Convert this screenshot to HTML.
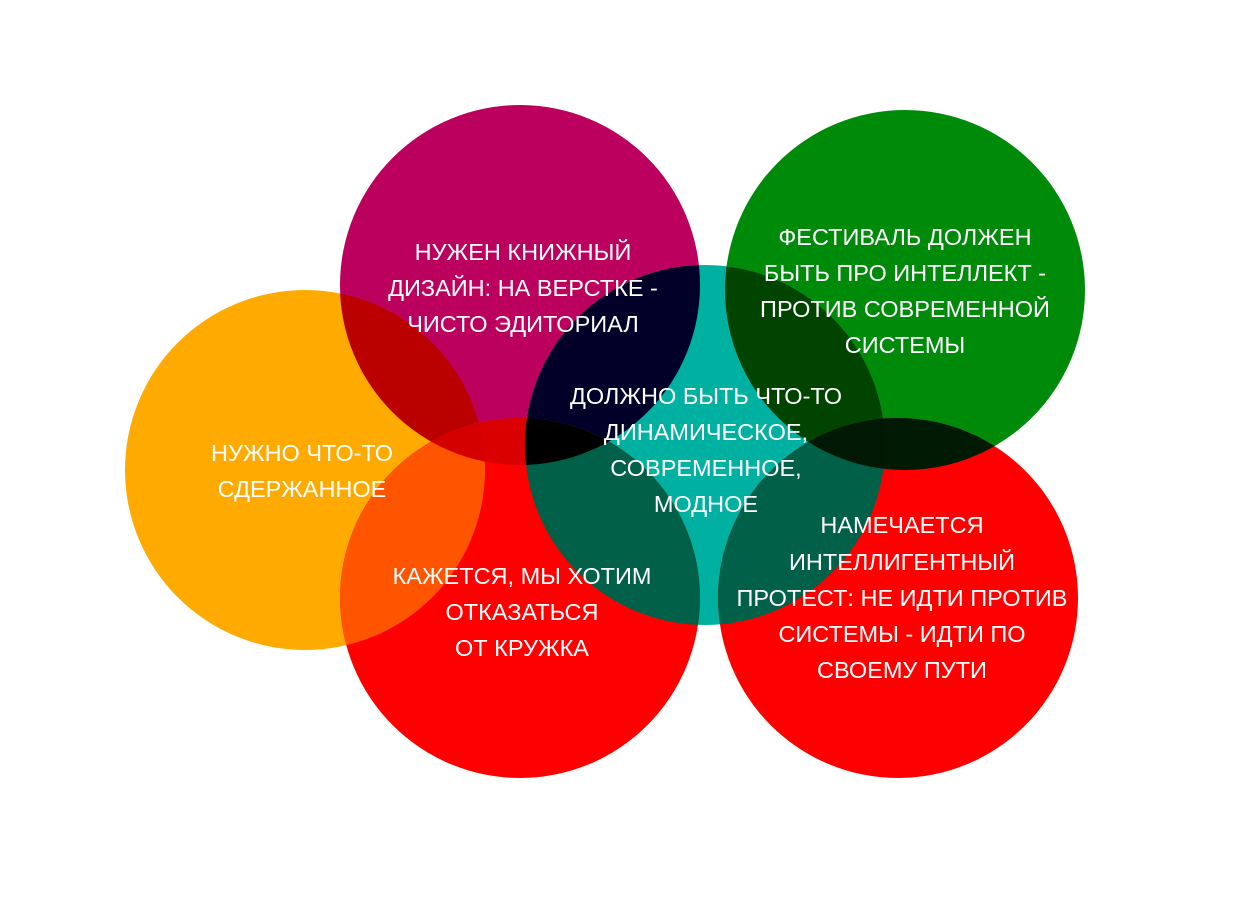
<!DOCTYPE html>
<html><head><meta charset="utf-8"><style>
html,body{margin:0;padding:0;background:#fff;}
svg{display:block}
text{font-family:"Liberation Sans","DejaVu Sans",sans-serif;font-size:23.5px;fill:#fff;text-anchor:middle;dominant-baseline:central;letter-spacing:0px}
</style></head><body>
<svg width="1240" height="900" viewBox="0 0 1240 900" xmlns="http://www.w3.org/2000/svg">
<defs>
<clipPath id="cO"><circle cx="305" cy="470" r="180"/></clipPath>
<clipPath id="cM"><circle cx="520" cy="285" r="180"/></clipPath>
<clipPath id="cG"><circle cx="905" cy="290" r="180"/></clipPath>
<clipPath id="cT"><circle cx="705" cy="445" r="180"/></clipPath>
<clipPath id="cR1"><circle cx="520" cy="598" r="180"/></clipPath>
<clipPath id="cR2"><circle cx="898" cy="598" r="180"/></clipPath>
</defs>
<rect width="1240" height="900" fill="#fff"/>
<circle cx="305" cy="470" r="180" fill="#FFAA00"/>
<circle cx="520" cy="285" r="180" fill="#BC005E"/>
<circle cx="905" cy="290" r="180" fill="#008A0A"/>
<circle cx="705" cy="445" r="180" fill="#00B0A0"/>
<circle cx="520" cy="598" r="180" fill="#FF0000"/>
<circle cx="898" cy="598" r="180" fill="#FF0000"/>
<g clip-path="url(#cO)"><circle cx="520" cy="285" r="180" fill="#BB0000"/></g>
<g clip-path="url(#cO)"><circle cx="520" cy="598" r="180" fill="#FF5500"/></g>
<g clip-path="url(#cM)"><circle cx="705" cy="445" r="180" fill="#000028"/></g>
<g clip-path="url(#cM)"><circle cx="520" cy="598" r="180" fill="#DA0000"/></g>
<g clip-path="url(#cT)"><circle cx="905" cy="290" r="180" fill="#004400"/></g>
<g clip-path="url(#cT)"><circle cx="520" cy="598" r="180" fill="#006048"/></g>
<g clip-path="url(#cT)"><circle cx="898" cy="598" r="180" fill="#006048"/></g>
<g clip-path="url(#cG)"><circle cx="898" cy="598" r="180" fill="#001A04"/></g>
<g clip-path="url(#cO)"><g clip-path="url(#cM)"><circle cx="520" cy="598" r="180" fill="#D40000"/></g></g>
<g clip-path="url(#cM)"><g clip-path="url(#cT)"><circle cx="520" cy="598" r="180" fill="#000000"/></g></g>
<g clip-path="url(#cT)"><g clip-path="url(#cG)"><circle cx="898" cy="598" r="180" fill="#001804"/></g></g>

<text x="523" y="252">НУЖЕН КНИЖНЫЙ</text>
<text x="523" y="288">ДИЗАЙН: НА ВЕРСТКЕ -</text>
<text x="523" y="324">ЧИСТО ЭДИТОРИАЛ</text>

<text x="905" y="237">ФЕСТИВАЛЬ ДОЛЖЕН</text>
<text x="905" y="273">БЫТЬ ПРО ИНТЕЛЛЕКТ -</text>
<text x="905" y="309">ПРОТИВ СОВРЕМЕННОЙ</text>
<text x="905" y="345">СИСТЕМЫ</text>

<text x="302" y="453">НУЖНО ЧТО-ТО</text>
<text x="302" y="489">СДЕРЖАННОЕ</text>

<text x="706" y="396">ДОЛЖНО БЫТЬ ЧТО-ТО</text>
<text x="706" y="432">ДИНАМИЧЕСКОЕ,</text>
<text x="706" y="468">СОВРЕМЕННОЕ,</text>
<text x="706" y="504">МОДНОЕ</text>

<text x="522" y="576">КАЖЕТСЯ, МЫ ХОТИМ</text>
<text x="522" y="612">ОТКАЗАТЬСЯ</text>
<text x="522" y="648">ОТ КРУЖКА</text>

<text x="902" y="525">НАМЕЧАЕТСЯ</text>
<text x="902" y="562">ИНТЕЛЛИГЕНТНЫЙ</text>
<text x="902" y="598">ПРОТЕСТ: НЕ ИДТИ ПРОТИВ</text>
<text x="902" y="634">СИСТЕМЫ - ИДТИ ПО</text>
<text x="902" y="670">СВОЕМУ ПУТИ</text>
</svg>
</body></html>
